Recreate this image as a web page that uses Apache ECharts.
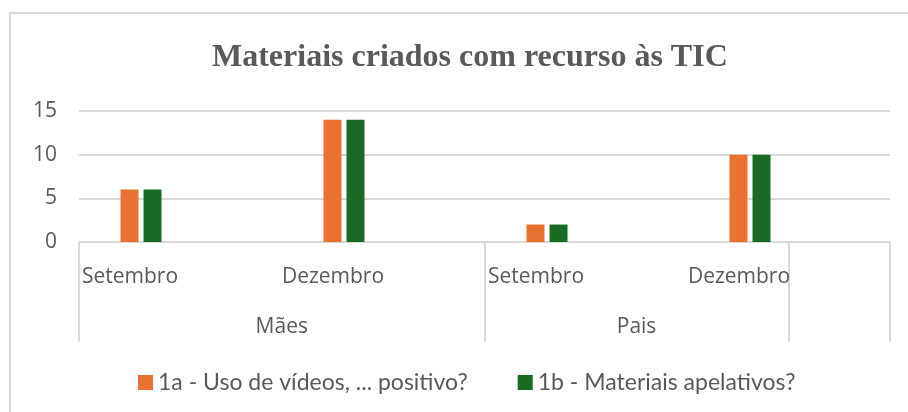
<!DOCTYPE html>
<html>
<head>
<meta charset="utf-8">
<script src="https://cdn.jsdelivr.net/npm/echarts@6/dist/echarts.min.js"></script>
<style>
  html, body { margin: 0; padding: 0; background: #ffffff; }
  #chart { width: 908px; height: 412px; }
</style>
</head>
<body>
<div id="chart"></div>
<script>
// Inner categories (months) and outer groups
const months = ['Setembro', 'Dezembro', 'Setembro', 'Dezembro'];
const groups = ['Mães', 'Pais'];

// Series
const seriesNames = ['1a - Uso de vídeos, ... positivo?', '1b - Materiais apelativos?'];
const usoVideos = [6, 14, 2, 10];
const materiaisApelativos = [6, 14, 2, 10];

// Value axis ticks
const yMin = 0, yMax = 15, yStep = 5;

const colors = ['#E97132', '#196B24'];
const textGray = '#595959';
const lineGray = '#D9D9D9';
const sans = '"Open Sans", "Noto Sans", sans-serif';

// Outer group axis: evenly spaced points, group names placed mid-span,
// separators drawn as long ticks at group boundaries.
const groupPoints = new Array(17).fill('');
groupPoints[4] = groups[0];
groupPoints[11] = groups[1];
const separatorIdx = [0, 8, 14, 16];

const chart = echarts.init(document.getElementById('chart'), null, { renderer: 'canvas' });

chart.setOption({
  backgroundColor: '#ffffff',
  animation: false,
  color: colors,
  title: {
    text: 'Materiais criados com recurso às TIC',
    left: 207,
    top: 37,
    textStyle: {
      fontFamily: '"Liberation Serif", "Times New Roman", serif',
      fontWeight: 'bold',
      fontSize: 32,
      color: textGray
    }
  },
  graphic: [{
    type: 'rect',
    silent: true,
    shape: { x: 10, y: 13, width: 1000, height: 500 },
    style: { fill: 'none', stroke: lineGray, lineWidth: 2 }
  }],
  legend: {
    top: 366,
    left: 133,
    icon: 'rect',
    itemWidth: 15,
    itemHeight: 15,
    itemGap: 50,
    textStyle: { fontFamily: 'Lato, sans-serif', fontSize: 23, color: textGray },
    data: seriesNames
  },
  grid: [
    { left: 39.5, right: 56.5, top: 111, bottom: 170 },
    { left: 79, right: 18, top: 111, bottom: 170 }
  ],
  xAxis: [
    {
      type: 'category',
      gridIndex: 0,
      data: months,
      axisLine: { show: false },
      axisTick: { show: false },
      axisLabel: {
        interval: 0,
        margin: 25,
        padding: [0, 22, 0, 0],
        fontFamily: sans,
        fontSize: 21,
        color: textGray
      }
    },
    {
      type: 'category',
      gridIndex: 1,
      boundaryGap: false,
      data: groupPoints,
      axisLine: { lineStyle: { color: lineGray, width: 2 } },
      axisTick: {
        show: true,
        length: 100,
        interval: (idx) => separatorIdx.includes(idx),
        lineStyle: { color: lineGray, width: 2 }
      },
      axisLabel: {
        interval: 0,
        margin: 75,
        fontFamily: sans,
        fontSize: 21,
        color: textGray
      },
      splitLine: { show: false }
    }
  ],
  yAxis: [
    { type: 'value', gridIndex: 0, min: yMin, max: yMax, interval: yStep, show: false, splitLine: { show: false } },
    {
      type: 'value',
      gridIndex: 1,
      min: yMin,
      max: yMax,
      interval: yStep,
      axisLine: { show: false },
      axisTick: { show: false },
      axisLabel: { margin: 22, fontFamily: sans, fontSize: 21, color: textGray },
      splitLine: { lineStyle: { color: lineGray, width: 2 } }
    }
  ],
  series: [
    {
      name: seriesNames[0],
      type: 'bar',
      xAxisIndex: 0,
      yAxisIndex: 0,
      data: usoVideos,
      barWidth: 18,
      barGap: '28%',
      itemStyle: { color: colors[0] }
    },
    {
      name: seriesNames[1],
      type: 'bar',
      xAxisIndex: 0,
      yAxisIndex: 0,
      data: materiaisApelativos,
      barWidth: 18,
      barGap: '28%',
      itemStyle: { color: colors[1] }
    }
  ]
});
</script>
</body>
</html>
